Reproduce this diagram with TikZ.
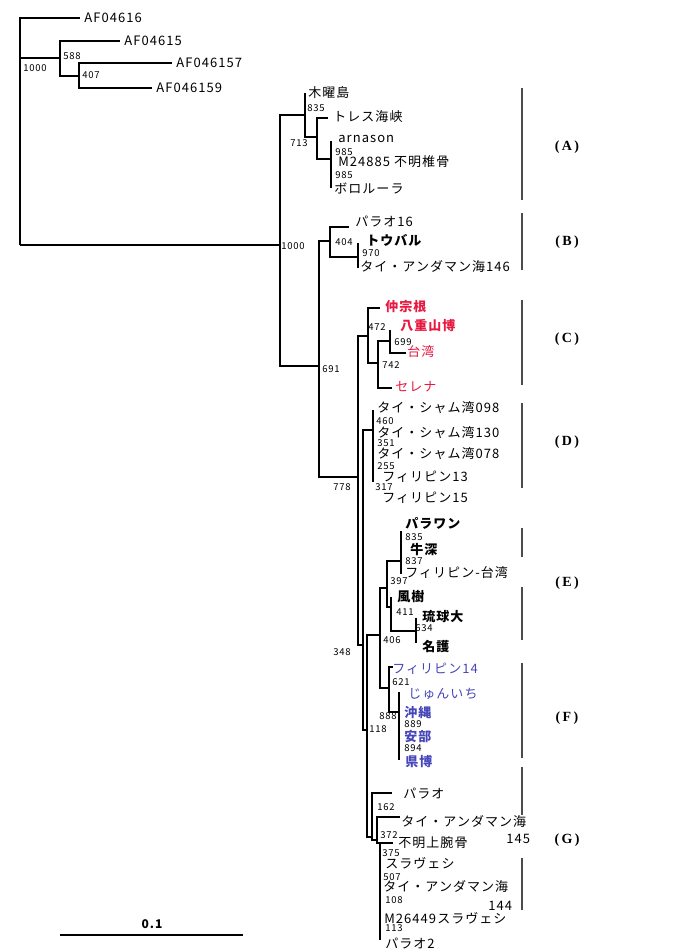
\documentclass[tikz,border=0pt]{standalone}
\usepackage{fontspec}
\newfontfamily\jp{Noto Sans CJK JP}[LetterSpace=8]
\newfontfamily\clfont{Liberation Serif}
\definecolor{redlab}{RGB}{232,24,64}
\definecolor{bluelab}{RGB}{70,70,185}
\tikzset{every picture/.style={line width=0.75pt}}

\begin{document}
\begin{tikzpicture}[x=1pt,y=-1pt,
    br/.style={line width=2pt},
    leaflab/.style={anchor=west,inner sep=0pt,font=\jp\fontsize{13}{13}\selectfont},
    leafbold/.style={leaflab,font=\jp\bfseries\fontsize{13}{13}\selectfont},
    bootlab/.style={anchor=west,inner sep=0pt,font=\jp\fontsize{9.5}{9.5}\selectfont},
    cladelab/.style={inner sep=0pt,font=\clfont\bfseries\fontsize{14}{14}\selectfont},
    clbar/.style={line width=1.1pt,black!70}]
    \useasboundingbox (0,0) rectangle (677,952);
    % 外群
    \coordinate (root) at (20,245);
    \coordinate (af16) at (80,18);
    \coordinate (n588) at (60,58);
    \coordinate (af15) at (120,41);
    \coordinate (n407) at (79,76);
    \coordinate (af157) at (172,63);
    \coordinate (af159) at (152,88);
    \draw[br] (root) |- (af16) (root) |- (n588) (n588) |- (af15) (n588) |- (n407)
        (n407) |- (af157) (n407) |- (af159);
    \node[leaflab] (t-af16) at (84,18) {AF04616};
    \node[leaflab] (t-af15) at (124,41) {AF04615};
    \node[leaflab] (t-af157) at (176,63) {AF046157};
    \node[leaflab] (t-af159) at (156,88) {AF046159};
    \node[bootlab] (b-root) at (23,68) {1000};
    \node[bootlab] (b-588) at (63,56) {588};
    \node[bootlab] (b-407) at (82,75) {407};
    % (A)
    \coordinate (n1000) at (280,245);
    \coordinate (nX) at (305,115);
    \coordinate (moku) at (305,93);
    \coordinate (nY) at (317,137);
    \coordinate (torres) at (328,118);
    \coordinate (nZ) at (331,159);
    \coordinate (arn) at (331,141);
    \coordinate (m248) at (331,163);
    \coordinate (boro) at (331,188);
    \draw[br] (root) -- (n1000) (n1000) |- (nX) (nX) |- (moku) (nX) |- (nY)
        (nY) |- (torres) (nY) |- (nZ) (nZ) |- (arn) (nZ) |- (boro);
    \node[leaflab] (t-moku) at (308,93) {木曜島};
    \node[bootlab] (b-835a) at (307,108) {835};
    \node[leaflab] (t-torres) at (333,117) {トレス海峡};
    \node[bootlab] (b-713) at (290,143) {713};
    \node[leaflab] (t-arn) at (338,139) {arnason};
    \node[bootlab] (b-985a) at (335,152) {985};
    \node[leaflab] (t-m248) at (338,162) {M24885 不明椎骨};
    \node[bootlab] (b-985b) at (335,175) {985};
    \node[leaflab] (t-boro) at (334,188) {ボロルーラ};
    \node[bootlab] (b-1000) at (281,246) {1000};
    % (B)
    \coordinate (n691) at (319,366);
    \coordinate (n404) at (330,241);
    \coordinate (palau16) at (349,227);
    \coordinate (n970) at (358,257);
    \coordinate (touba) at (358,243);
    \coordinate (ta146) at (358,268);
    \draw[br] (n1000) |- (n691) (n691) |- (n404) (n404) |- (palau16) (n404) |- (n970)
        (n970) |- (touba) (n970) |- (ta146);
    \node[leaflab] (t-palau16) at (355,222) {パラオ16};
    \node[bootlab] (b-404) at (335,242) {404};
    \node[leafbold] (t-touba) at (366,240) {トウバル};
    \node[bootlab] (b-970) at (362,253) {970};
    \node[leaflab] (t-ta146) at (360,267) {タイ・アンダマン海146};
    \node[bootlab] (b-691) at (322,369) {691};
    % (C)
    \coordinate (n778) at (358,477);
    \coordinate (n472) at (368,336);
    \coordinate (naka) at (380,308);
    \coordinate (n742) at (378,363);
    \coordinate (n699) at (390,341);
    \coordinate (yae) at (390,330);
    \coordinate (tw) at (406,353);
    \coordinate (sere) at (392,388);
    \draw[br] (n691) |- (n778) (n778) |- (n472) (n472) |- (naka) (n472) |- (n742)
        (n742) |- (n699) (n742) |- (sere) (n699) |- (yae) (n699) |- (tw);
    \node[leafbold,redlab] (t-naka) at (385,307) {仲宗根};
    \node[bootlab] (b-472) at (368,327) {472};
    \node[leafbold,redlab] (t-yae) at (400,326) {八重山博};
    \node[bootlab] (b-699) at (394,342) {699};
    \node[leaflab,redlab] (t-tw) at (407,352) {台湾};
    \node[bootlab] (b-742) at (382,365) {742};
    \node[leaflab,redlab] (t-sere) at (395,387) {セレナ};
    % (D)
    \coordinate (n348) at (363,645);
    \coordinate (n460) at (373,430);
    \coordinate (ts098) at (373,410);
    \coordinate (ph13) at (373,482);
    \draw[br] (n778) |- (n348) (n348) |- (n460) (n460) |- (ts098) (n460) |- (ph13);
    \node[leaflab] (t-ts098) at (377,408) {タイ・シャム湾098};
    \node[bootlab] (b-460) at (376,421) {460};
    \node[leaflab] (t-ts130) at (377,433) {タイ・シャム湾130};
    \node[bootlab] (b-351) at (377,443) {351};
    \node[leaflab] (t-ts078) at (377,454) {タイ・シャム湾078};
    \node[bootlab] (b-255) at (377,466) {255};
    \node[leaflab] (t-ph13) at (382,477) {フィリピン13};
    \node[bootlab] (b-317) at (375,487) {317};
    \node[leaflab] (t-ph15) at (382,498) {フィリピン15};
    \node[bootlab] (b-778) at (333,487) {778};
    % (E)
    \coordinate (n118) at (367,730);
    \coordinate (n406) at (380,635);
    \coordinate (n397) at (387,588);
    \coordinate (n835) at (401,561);
    \coordinate (palawan) at (401,531);
    \coordinate (phtw) at (401,574);
    \coordinate (n411) at (391,607);
    \coordinate (fuju) at (391,597);
    \coordinate (n634) at (416,631);
    \coordinate (ryukyu) at (416,618);
    \coordinate (nago) at (416,643);
    \draw[br] (n348) |- (n118) (n118) |- (n406) (n406) |- (n397) (n397) |- (n835)
        (n397) |- (n411) (n835) |- (palawan) (n835) |- (phtw) (n411) |- (fuju)
        (n411) |- (n634) (n634) |- (ryukyu) (n634) |- (nago);
    \node[leafbold] (t-palawan) at (405,523) {パラワン};
    \node[bootlab] (b-835b) at (405,537) {835};
    \node[leafbold] (t-ushi) at (410,550) {牛深};
    \node[bootlab] (b-837) at (405,561) {837};
    \node[leaflab] (t-phtw) at (405,573) {フィリピン-台湾};
    \node[bootlab] (b-397) at (390,581) {397};
    \node[leafbold] (t-fuju) at (397,597) {風樹};
    \node[bootlab] (b-411) at (396,612) {411};
    \node[leafbold] (t-ryukyu) at (422,617) {琉球大};
    \node[bootlab] (b-634) at (415,628) {634};
    \node[bootlab] (b-406) at (383,640) {406};
    \node[leafbold] (t-nago) at (422,647) {名護};
    \node[bootlab] (b-348) at (333,652) {348};
    % (F)
    \coordinate (n621) at (389,688);
    \coordinate (ph14) at (393,667);
    \coordinate (n888) at (399,712);
    \coordinate (jun) at (399,692);
    \coordinate (kenpaku) at (399,760);
    \draw[br] (n406) |- (n621) (n621) |- (ph14) (n621) |- (n888) (n888) |- (jun)
        (n888) |- (kenpaku);
    \node[leaflab,bluelab] (t-ph14) at (392,669) {フィリピン14};
    \node[bootlab] (b-621) at (392,682) {621};
    \node[leaflab,bluelab] (t-jun) at (408,694) {じゅんいち};
    \node[bootlab] (b-888) at (379,716) {888};
    \node[leafbold,bluelab] (t-oki) at (404,713) {沖縄};
    \node[bootlab] (b-889) at (404,724) {889};
    \node[bootlab] (b-118) at (369,729) {118};
    \node[leafbold,bluelab] (t-abe) at (404,737) {安部};
    \node[bootlab] (b-894) at (404,748) {894};
    \node[leafbold,bluelab] (t-kenpaku) at (405,762) {県博};
    % (G)
    \coordinate (n162) at (372,837);
    \coordinate (palau) at (392,793);
    \coordinate (n372) at (377,840);
    \coordinate (ta145) at (400,817);
    \coordinate (n375) at (380,843);
    \coordinate (fumei) at (393,843);
    \coordinate (palau2) at (380,940);
    \draw[br] (n118) |- (n162) (n162) |- (palau) (n162) |- (n372) (n372) |- (ta145)
        (n372) |- (n375) (n375) |- (fumei) (n375) |- (palau2);
    \node[leaflab] (t-palau) at (403,793) {パラオ};
    \node[bootlab] (b-162) at (377,807) {162};
    \node[leaflab] (t-ta145) at (401,822) {タイ・アンダマン海};
    \node[leaflab] (t-145) at (506,839) {145};
    \node[bootlab] (b-372) at (380,835) {372};
    \node[leaflab] (t-fumei) at (398,843) {不明上腕骨};
    \node[bootlab] (b-375) at (382,853) {375};
    \node[leaflab] (t-sula) at (385,863) {スラヴェシ};
    \node[bootlab] (b-507) at (383,877) {507};
    \node[leaflab] (t-ta144) at (383,887) {タイ・アンダマン海};
    \node[bootlab] (b-108) at (385,900) {108};
    \node[leaflab] (t-144) at (488,906) {144};
    \node[leaflab] (t-m264) at (384,918) {M26449スラヴェシ};
    \node[bootlab] (b-113) at (385,928) {113};
    \node[leaflab] (t-palau2) at (385,943) {パラオ2};
    % 系統群の区切り
    \draw[clbar] (522,88) -- (522,200) (522,213) -- (522,270) (522,300) -- (522,385)
        (522,403) -- (522,488) (522,528) -- (522,557) (522,587) -- (522,640)
        (522,663) -- (522,758) (522,767) -- (522,815) (522,858) -- (522,910);
    \node[cladelab] (c-a) at (567,147) {(\,A\,)};
    \node[cladelab] (c-b) at (567,242) {(\,B\,)};
    \node[cladelab] (c-c) at (567,339) {(\,C\,)};
    \node[cladelab] (c-d) at (567,442) {(\,D\,)};
    \node[cladelab] (c-e) at (567,583) {(\,E\,)};
    \node[cladelab] (c-f) at (567,718) {(\,F\,)};
    \node[cladelab] (c-g) at (567,840) {(\,G\,)};
    % スケール
    \draw[line width=2.4pt] (60,935) -- (243,935);
    \node[inner sep=0pt,font=\jp\bfseries\fontsize{12}{12}\selectfont] (scale) at (152,924) {0.1};
\end{tikzpicture}
\end{document}
